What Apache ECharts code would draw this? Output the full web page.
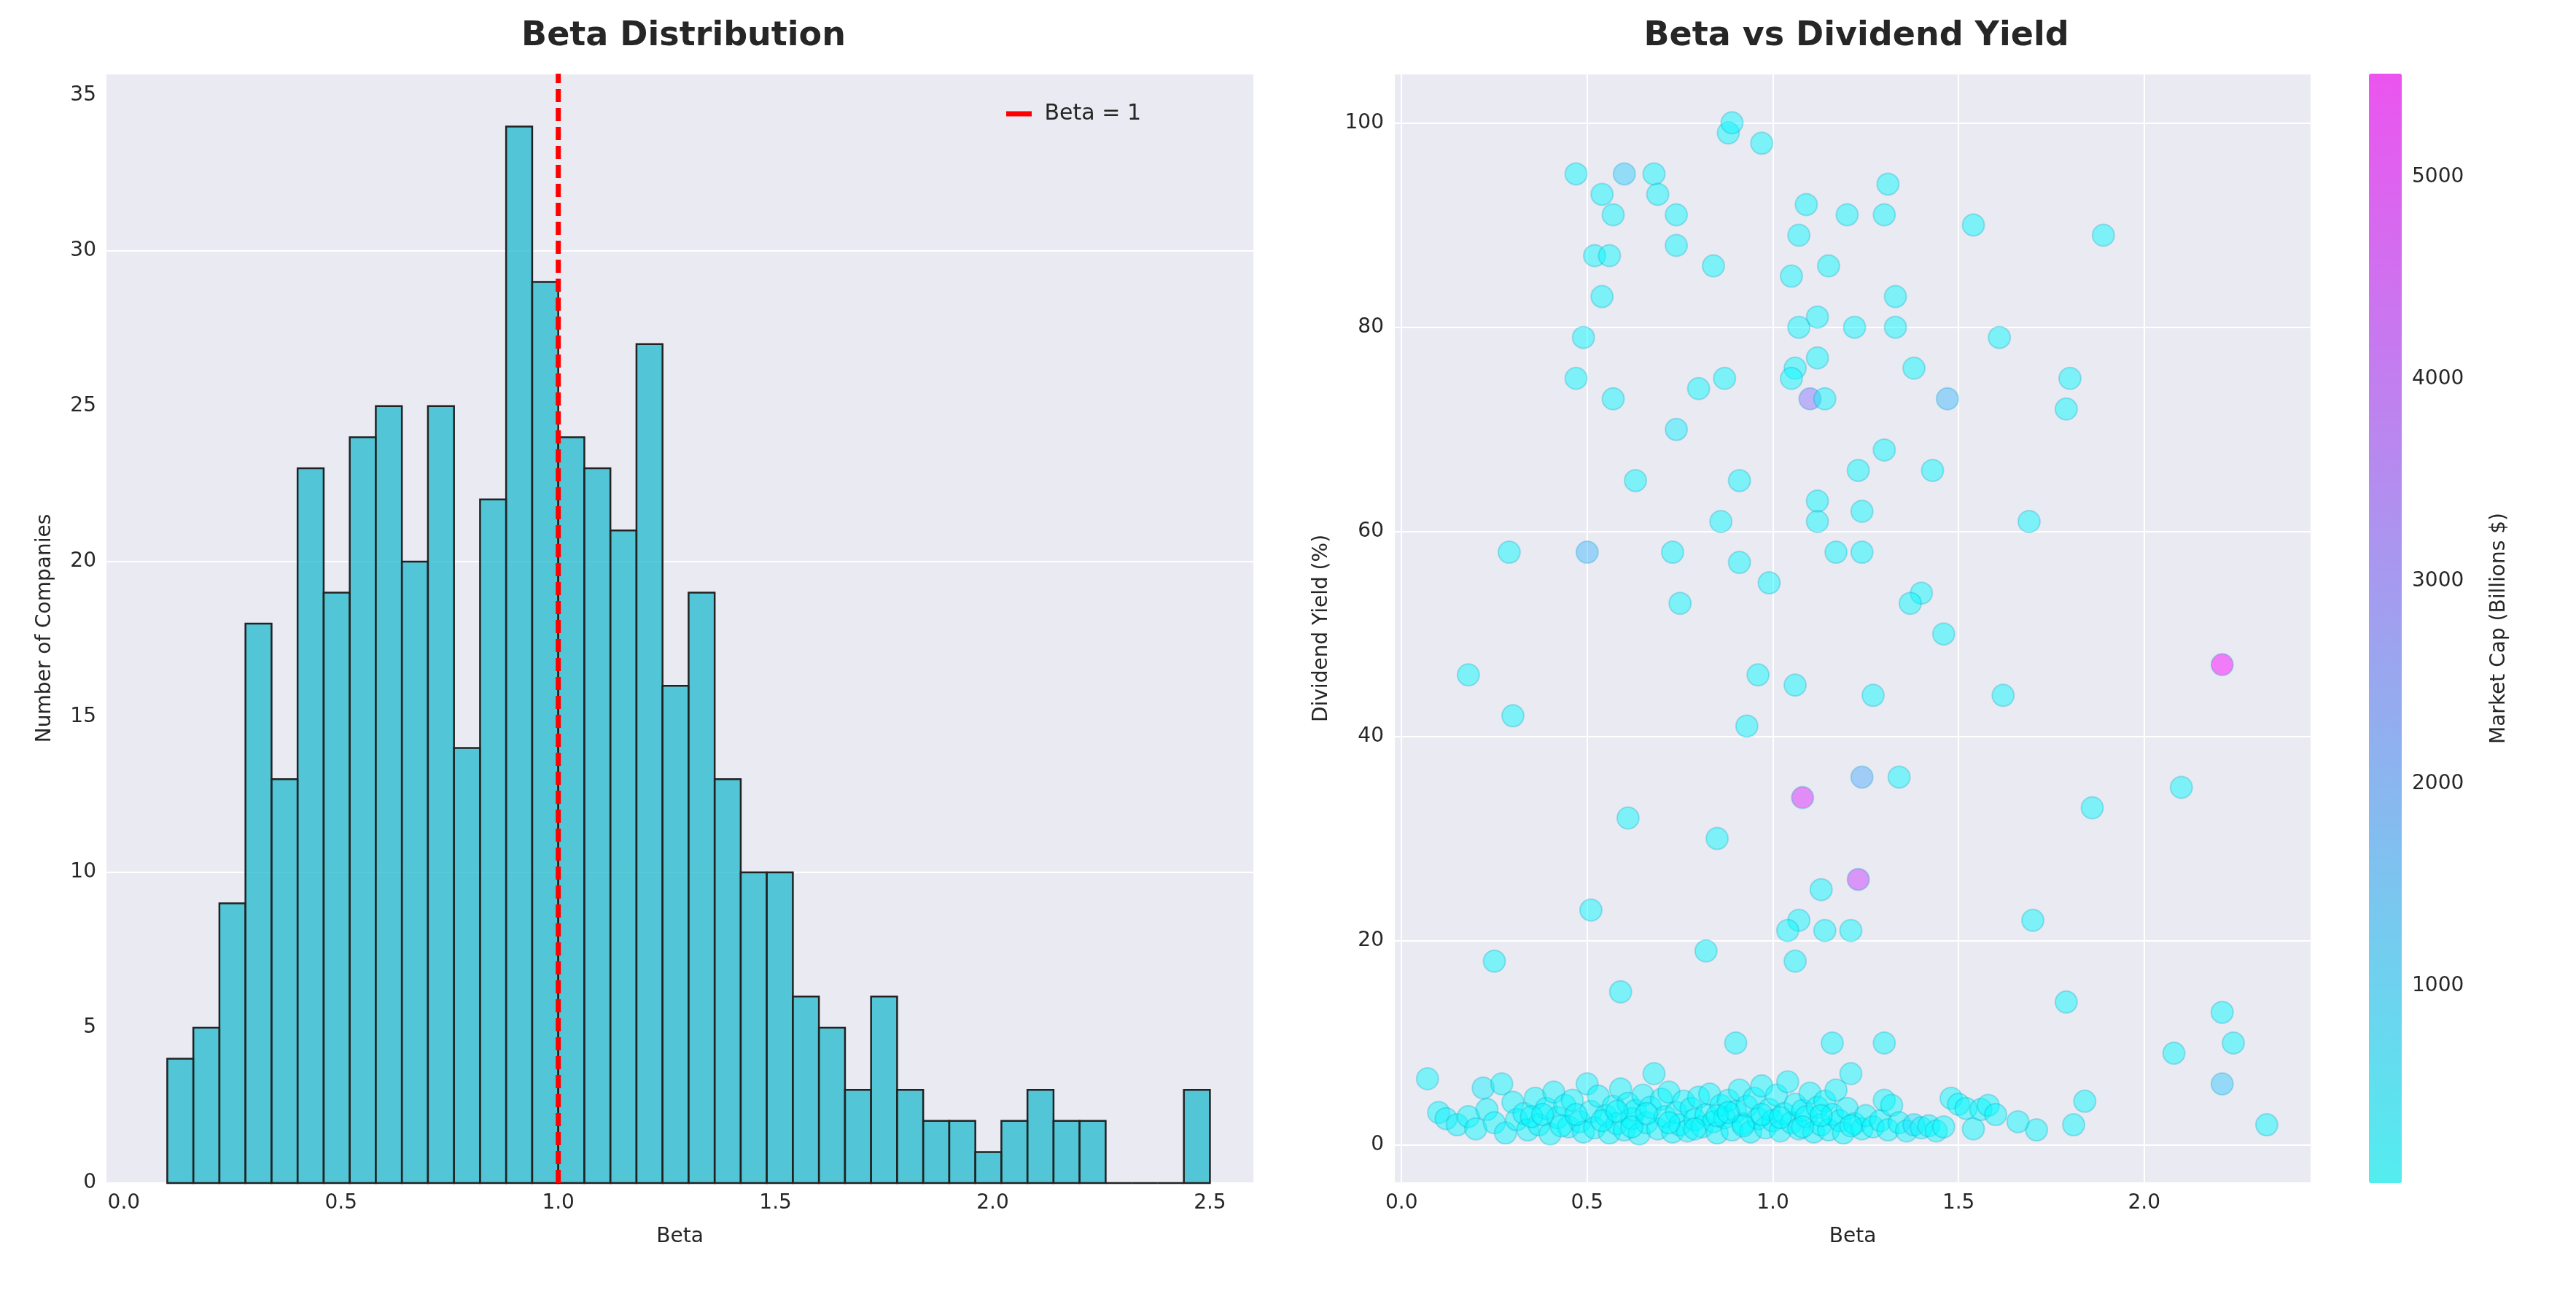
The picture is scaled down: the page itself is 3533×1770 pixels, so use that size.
<!DOCTYPE html>
<html><head><meta charset="utf-8">
<script src="https://cdn.jsdelivr.net/npm/echarts@6/dist/echarts.min.js"></script>
<style>html,body{margin:0;background:#fff}#c{width:3533px;height:1770px}</style>
</head><body><div id="c"></div>
<script>
// Histogram
const binStart = 0.10, binWidth = 0.06;
const binCounts = [4,5,9,18,13,23,19,24,25,20,25,14,22,34,29,24,23,21,27,16,19,13,10,10,6,5,3,6,3,2,2,1,2,3,2,2,0,0,0,3];
// Scatter: [beta, dividend yield, market cap]
const scatterPoints = [
[0.47,95,150],[0.60,95,1100],[0.68,95,200],[0.54,93,120],[0.69,93,180],[0.57,91,150],[0.74,91,100],[0.52,87,200],[0.56,87,130],
[0.74,88,150],[0.84,86,120],[0.54,83,160],[0.49,79,130],[0.47,75,150],[0.57,73,200],[0.63,65,120],[0.74,70,400],[0.80,74,150],
[0.87,75,150],[0.88,99,150],[0.89,100,200],[0.97,98,130],[1.09,92,150],[1.07,89,180],[1.05,85,150],[1.15,86,120],[1.20,91,130],
[1.31,94,150],[1.30,91,140],[1.33,83,150],[1.33,80,160],[1.22,80,120],[1.12,81,150],[1.07,80,140],[1.12,77,130],[1.06,76,150],
[1.05,75,130],[1.10,73,3000],[1.14,73,200],[1.38,76,150],[1.47,73,1500],[1.54,90,120],[1.89,89,150],[1.61,79,130],[1.80,75,150],
[1.79,72,120],[1.69,61,150],[1.43,66,130],[1.30,68,120],[1.23,66,150],[1.24,62,140],[1.12,63,130],[1.12,61,150],[1.17,58,130],
[1.24,58,120],[0.91,65,150],[0.86,61,130],[0.91,57,120],[0.99,55,150],[0.73,58,130],[0.75,53,150],[0.50,58,1500],[0.29,58,150],
[1.40,54,130],[1.37,53,150],[1.46,50,120],[1.62,44,150],[2.21,47,5400],[1.27,44,130],[0.96,46,150],[1.06,45,120],[0.93,41,130],
[0.18,46,150],[0.30,42,130],[1.24,36,1800],[1.34,36,150],[1.08,34,4700],[2.10,35,150],[1.86,33,130],[0.61,32,150],[0.85,30,130],
[1.23,26,4300],[1.13,25,150],[0.51,23,150],[1.07,22,130],[1.70,22,150],[1.04,21,130],[1.14,21,150],[1.21,21,140],[0.82,19,130],
[1.06,18,150],[0.25,18,130],[0.59,15,150],[1.79,14,130],[2.21,13,150],[2.24,10,130],[2.08,9,150],[0.90,10,130],[1.16,10,150],
[1.30,10,140],[1.21,7,150],[2.21,6,1200],[2.33,2,150],[0.07,6.5,130],[1.84,4.3,150],[1.81,2,130],[1.71,1.5,150],[1.66,2.3,140],
[0.10,3.2,150],[0.12,2.6,300],[0.15,2.0,200],[0.18,2.8,150],[0.20,1.6,130],[0.22,5.6,400],[0.23,3.5,150],[0.25,2.2,130],[0.27,6.0,150],
[0.28,1.2,200],[0.30,4.2,150],[0.31,2.5,130],[0.33,3.1,150],[0.34,1.5,140],[0.36,4.6,130],[0.37,2.0,150],[0.39,3.6,130],[0.40,1.1,150],
[0.41,5.2,200],[0.42,2.7,150],[0.44,3.9,130],[0.45,1.8,150],[0.46,4.4,140],[0.48,2.3,130],[0.49,1.3,150],[0.50,6.0,200],[0.51,3.3,150],
[0.52,1.7,130],[0.53,4.8,150],[0.55,2.9,140],[0.56,1.2,130],[0.57,3.8,150],[0.58,2.1,130],[0.59,5.5,150],[0.60,1.5,140],[0.61,4.1,150],
[0.62,2.6,130],[0.63,3.4,150],[0.64,1.1,130],[0.65,4.9,150],[0.66,2.2,140],[0.67,3.7,130],[0.68,7.0,150],[0.69,1.6,130],[0.70,4.5,150],
[0.71,2.8,140],[0.72,5.2,130],[0.73,1.3,150],[0.74,3.2,130],[0.75,2.0,150],[0.76,4.3,140],[0.77,1.4,130],[0.78,3.6,150],[0.79,2.5,130],
[0.80,4.7,150],[0.81,1.8,140],[0.82,3.0,130],[0.83,5.0,150],[0.84,2.3,130],[0.85,1.2,150],[0.86,3.9,140],[0.87,2.7,130],[0.88,4.4,150],
[0.89,1.5,130],[0.90,3.3,150],[0.91,5.4,140],[0.92,2.1,130],[0.93,3.8,150],[0.94,1.3,130],[0.95,4.6,150],[0.96,2.6,140],[0.97,5.8,130],
[0.98,1.7,150],[0.99,3.5,130],[1.00,2.4,150],[1.01,4.9,140],[1.02,1.4,130],[1.03,3.1,150],[1.04,6.2,130],[1.05,2.2,150],[1.06,4.0,140],
[1.07,1.6,130],[1.08,3.4,150],[1.09,2.8,130],[1.10,5.1,150],[1.11,1.3,140],[1.12,3.7,130],[1.13,2.0,150],[1.14,4.3,130],[1.15,1.5,150],
[1.16,3.0,140],[1.17,5.4,130],[1.18,2.4,150],[1.19,1.2,130],[1.20,3.6,150],[1.22,2.1,140],[1.24,1.6,130],[1.25,2.9,150],[1.27,1.8,130],
[1.29,2.4,150],[1.30,4.4,140],[1.31,1.5,130],[1.32,3.9,150],[1.34,2.2,130],[1.36,1.4,150],[1.38,2.0,600],[1.40,1.7,130],[1.42,1.9,150],
[1.44,1.4,140],[1.46,1.8,130],[1.48,4.6,150],[1.50,4.0,130],[1.52,3.6,150],[1.54,1.6,140],[1.56,3.5,130],[1.58,3.9,150],[1.60,3.0,130],
[0.35,2.8,150],[0.43,1.9,130],[0.47,3.0,150],[0.54,2.4,140],[0.62,1.8,130],[0.66,3.1,150],[0.72,2.2,130],[0.79,1.6,150],[0.85,2.9,140],
[0.92,1.9,130],[0.97,3.0,150],[1.02,2.7,130],[1.08,1.8,150],[1.13,2.9,140],[1.21,1.9,130],[0.38,3.0,150],[0.58,3.3,130],[0.88,3.2,150]
];
const histXTicks = [0,0.5,1,1.5,2,2.5];
const histYTicks = [0,5,10,15,20,25,30,35];
const scatXTicks = [0,0.5,1,1.5,2];
const scatYTicks = [0,20,40,60,80,100];
const cbTicks = [1000,2000,3000,4000,5000];

const bg = '#eaeaf2', tc = '#262626', font = 'DejaVu Sans';
const gridL = {left:146, top:101, width:1573, height:1521};
const gridR = {left:1912, top:101, width:1258, height:1521};
const gridC = {left:3249, top:101, width:45, height:1521};
const lab = (vals, fmt) => ({color:tc,fontSize:28,fontFamily:font,margin:14,customValues:vals,formatter:fmt});
const split = {show:true,lineStyle:{color:'#ffffff',width:2}};
const nts = {color:tc,fontSize:28,fontFamily:font};
const histData = binCounts.map((c,i)=>[binStart+i*binWidth, binStart+(i+1)*binWidth, c]);

const chart = echarts.init(document.getElementById('c'));
chart.setOption({
  backgroundColor:'#fff', animation:false,
  title:[
    {text:'Beta Distribution',left:gridL.left+gridL.width/2,top:22,textAlign:'center',textStyle:{fontSize:46,fontWeight:'bold',color:tc,fontFamily:font}},
    {text:'Beta vs Dividend Yield',left:gridR.left+gridR.width/2,top:22,textAlign:'center',textStyle:{fontSize:46,fontWeight:'bold',color:tc,fontFamily:font}}
  ],
  legend:{data:[{name:'Beta = 1',icon:'path://M0,0 L10,0 L10,2 L0,2 Z'}],left:1375,top:136,itemWidth:60,itemHeight:7,itemGap:20,
    textStyle:{fontSize:30,color:tc,fontFamily:font}},
  grid:[Object.assign({backgroundColor:bg,show:true,borderWidth:0},gridL),
        Object.assign({backgroundColor:bg,show:true,borderWidth:0},gridR),
        Object.assign({show:false},gridC)],
  xAxis:[
    {gridIndex:0,type:'value',min:-0.04,max:2.6,axisLine:{show:false},axisTick:{show:false},
     axisLabel:lab(histXTicks,v=>v.toFixed(1)),splitLine:{show:false},name:'Beta',nameLocation:'middle',nameGap:60,nameTextStyle:nts},
    {gridIndex:1,type:'value',min:-0.02,max:2.45,axisLine:{show:false},axisTick:{show:false},
     axisLabel:lab(scatXTicks,v=>v.toFixed(1)),splitLine:split,name:'Beta',nameLocation:'middle',nameGap:60,nameTextStyle:nts},
    {gridIndex:2,type:'value',show:false,min:0,max:1}
  ],
  yAxis:[
    {gridIndex:0,type:'value',min:0,max:35.7,axisLine:{show:false},axisTick:{show:false},
     axisLabel:lab(histYTicks),splitLine:split,name:'Number of Companies',nameLocation:'middle',nameGap:70,nameTextStyle:nts},
    {gridIndex:1,type:'value',min:-3.7,max:104.8,axisLine:{show:false},axisTick:{show:false},
     axisLabel:lab(scatYTicks),splitLine:split,name:'Dividend Yield (%)',nameLocation:'middle',nameGap:85,nameTextStyle:nts},
    {gridIndex:2,type:'value',position:'right',min:24,max:5512,axisLine:{show:false},axisTick:{show:false},
     splitLine:{show:false},axisLabel:lab(cbTicks,v=>String(v)),
     name:'Market Cap (Billions $)',nameLocation:'middle',nameGap:120,nameRotate:90,nameTextStyle:nts}
  ],
  visualMap:{type:'continuous',seriesIndex:2,dimension:2,min:24,max:5512,calculable:false,
    left:gridC.left,top:gridC.top,itemWidth:gridC.width,itemHeight:gridC.height,text:['',''],showLabel:false,padding:0,
    inRange:{color:['rgba(0,255,255,0.6)','rgba(255,0,255,0.6)']}},
  series:[
    {type:'custom',xAxisIndex:0,yAxisIndex:0,data:histData,
     renderItem:(params,api)=>{const p0=api.coord([api.value(0),api.value(2)]),p1=api.coord([api.value(1),0]);
       return {type:'rect',shape:{x:p0[0],y:p0[1],width:p1[0]-p0[0],height:p1[1]-p0[1]},
         style:{fill:'rgba(23,183,203,0.72)',stroke:'#222',lineWidth:2.5}};}},
    {name:'Beta = 1',type:'line',xAxisIndex:0,yAxisIndex:0,data:[[1,0],[1,35.7]],symbol:'none',
     lineStyle:{color:'#ff0000',width:7,type:[18,8]},itemStyle:{color:'#ff0000'}},
    {type:'scatter',xAxisIndex:1,yAxisIndex:1,data:scatterPoints,symbolSize:30,
     itemStyle:{borderColor:'rgba(0,160,190,0.35)',borderWidth:2}}
  ]
});
</script></body></html>
